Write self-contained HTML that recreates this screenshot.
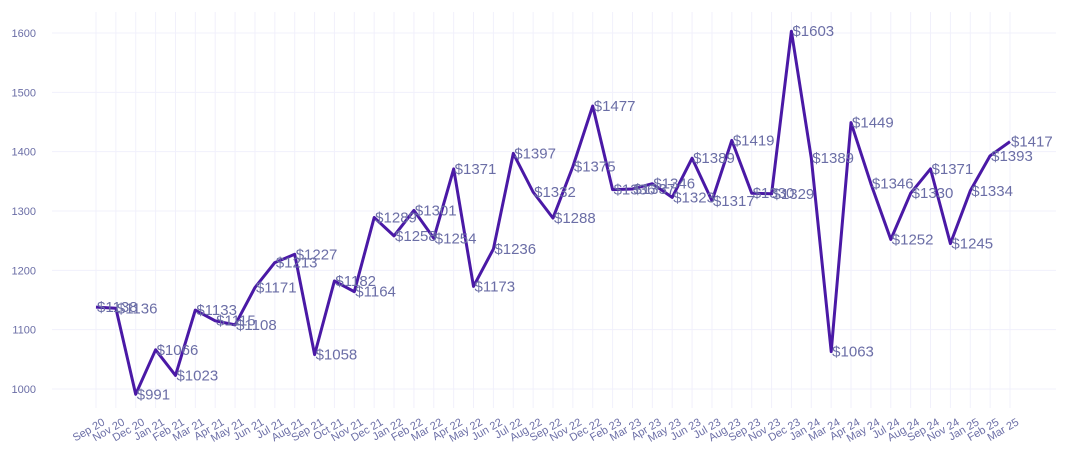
<!DOCTYPE html>
<html><head><meta charset="utf-8"><style>
body{margin:0;background:#fff;}
svg{display:block;font-family:"Liberation Sans",sans-serif;}
</style></head><body>
<svg id="chart" width="1070" height="465" viewBox="0 0 1070 465">
<g id="grid"></g>
<g id="yaxis"></g>
<g id="xaxis"></g>
<path id="line" fill="none" stroke="#4a19a6" stroke-width="3" stroke-linejoin="round"/>
<g id="labels"></g>
</svg>
<script>
const categories=["Sep 20","Nov 20","Dec 20","Jan 21","Feb 21","Mar 21","Apr 21","May 21","Jun 21","Jul 21","Aug 21","Sep 21","Oct 21","Nov 21","Dec 21","Jan 22","Feb 22","Mar 22","Apr 22","May 22","Jun 22","Jul 22","Aug 22","Sep 22","Nov 22","Dec 22","Feb 23","Mar 23","Apr 23","May 23","Jun 23","Jul 23","Aug 23","Sep 23","Nov 23","Dec 23","Jan 24","Mar 24","Apr 24","May 24","Jul 24","Aug 24","Sep 24","Nov 24","Jan 25","Feb 25","Mar 25"];
const values=[1138,1136,991,1066,1023,1133,1115,1108,1171,1213,1227,1058,1182,1164,1289,1258,1301,1254,1371,1173,1236,1397,1332,1288,1375,1477,1336,1337,1346,1323,1389,1317,1419,1330,1329,1603,1389,1063,1449,1346,1252,1330,1371,1245,1334,1393,1417];
const yTicks=[1000,1100,1200,1300,1400,1500,1600];
const NS="http://www.w3.org/2000/svg";
const px0=96,px1=1010,plotLeft=52,plotRight=1056,plotTop=12,plotBottom=408;
const xs=i=>px0+i*(px1-px0)/(categories.length-1);
const ys=v=>389-(v-1000)*(389-33)/600;
function mk(t,p,a){const e=document.createElementNS(NS,t);for(const k in a)e.setAttribute(k,a[k]);p.appendChild(e);return e;}
const grid=document.getElementById('grid'),ya=document.getElementById('yaxis'),xa=document.getElementById('xaxis'),lb=document.getElementById('labels');
yTicks.forEach(v=>{
  const l=mk('line',grid,{x1:plotLeft,x2:plotRight,y1:ys(v),y2:ys(v),stroke:'#f1f0fb','stroke-width':1});
  
  
  const t=mk('text',ya,{x:36,y:ys(v)+4,'text-anchor':'end','font-size':11,fill:'#6b6ea6'});
  t.textContent=v;
  
  
});
categories.forEach((c,i)=>{
  const l=mk('line',grid,{x1:xs(i),x2:xs(i),y1:plotTop,y2:plotBottom,stroke:'#f1f0fb','stroke-width':1});
  
  
  const t=mk('text',xa,{x:xs(i)+6,y:418,'text-anchor':'end','font-size':11,fill:'#6b6ea6',transform:`rotate(-30 ${xs(i)+6} 418)`,'dominant-baseline':'hanging'});
  t.textContent=c;
  
  
});
document.getElementById('line').setAttribute('d',values.map((v,i)=>(i?'L':'M')+xs(i).toFixed(1)+','+ys(v).toFixed(1)).join(''));
values.forEach((v,i)=>{
  const t=mk('text',lb,{x:xs(i)+1,y:ys(v)+1,'font-size':15,fill:'#6b6ea6','dominant-baseline':'middle'});
  t.textContent='$'+v;
  
  
});
</script>
</body></html>
